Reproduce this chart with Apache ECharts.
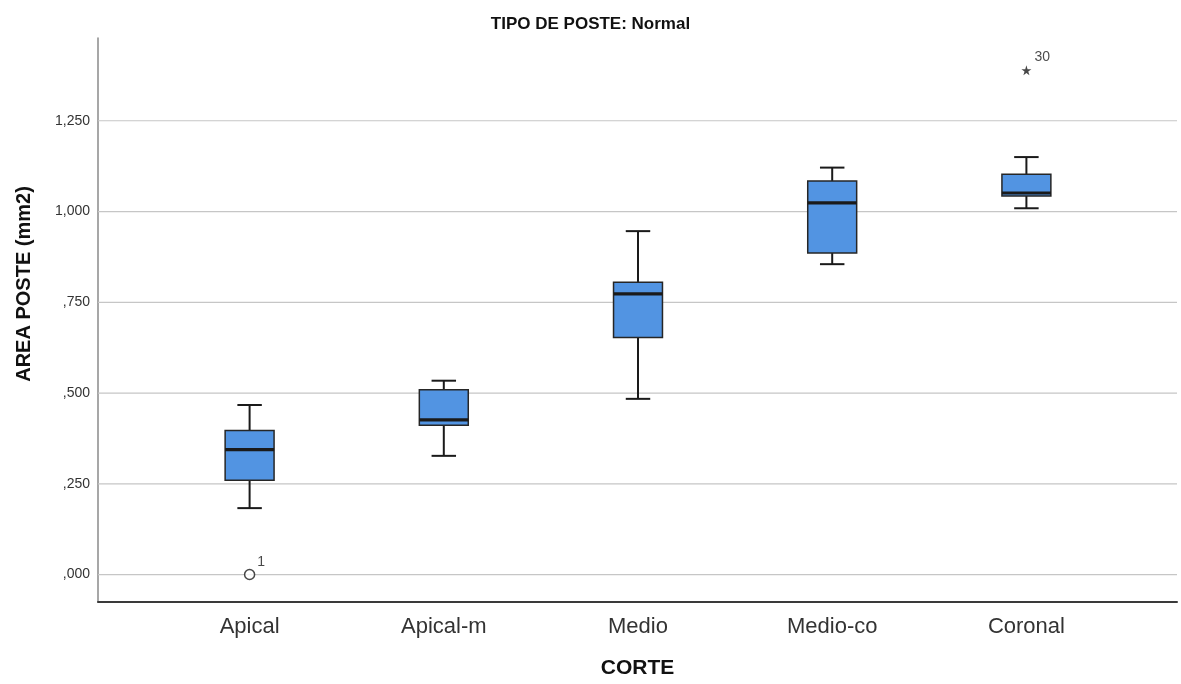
<!DOCTYPE html>
<html>
<head>
<meta charset="utf-8">
<script src="https://cdn.jsdelivr.net/npm/echarts@6/dist/echarts.min.js"></script>
<style>
  html, body { margin: 0; padding: 0; background: #ffffff; }
  #chart { width: 1181px; height: 684px; }
</style>
</head>
<body>
<div id="chart"></div>
<script>
// Area of the post (mm2) per section level, post type "Normal"
const categories  = ['Apical', 'Apical-m', 'Medio', 'Medio-co', 'Coronal'];
const whiskerLow  = [0.183, 0.327, 0.484, 0.855, 1.009];
const q1          = [0.260, 0.411, 0.653, 0.886, 1.043];
const median      = [0.344, 0.426, 0.773, 1.024, 1.051];
const q3          = [0.397, 0.509, 0.805, 1.084, 1.103];
const whiskerHigh = [0.467, 0.534, 0.946, 1.121, 1.150];

// Outliers: [category index, value, case number]
const outlierCircles = [[0, 0.000, '1']];
const extremeStars   = [[4, 1.389, '30']];

// Value axis ticks and their labels
const tickValues = [0, 0.25, 0.5, 0.75, 1.0, 1.25];
const tickLabels = [',000', ',250', ',500', ',750', '1,000', '1,250'];
const yMin = -0.0756;
const yMax = 1.478;

const FONT = '"Liberation Sans", Arial, sans-serif';
const BOX_FILL = '#5294e2';
const INK = '#1a1a1a';

const boxData = categories.map((c, i) => [i, whiskerLow[i], q1[i], median[i], q3[i], whiskerHigh[i]]);

function renderBox(params, api) {
  const i = api.value(0);
  const band = api.size([1, 0])[0];
  const halfBox = band * 0.126;
  const halfCap = halfBox / 2;
  const pLow = api.coord([i, api.value(1)]);
  const pQ1 = api.coord([i, api.value(2)]);
  const pMed = api.coord([i, api.value(3)]);
  const pQ3 = api.coord([i, api.value(4)]);
  const pHigh = api.coord([i, api.value(5)]);
  const cx = pMed[0];
  const line = (x1, y1, x2, y2, w) => ({
    type: 'line',
    shape: { x1, y1, x2, y2 },
    style: { stroke: INK, lineWidth: w }
  });
  return {
    type: 'group',
    children: [
      line(cx, pHigh[1], cx, pQ3[1], 2),
      line(cx, pLow[1], cx, pQ1[1], 2),
      line(cx - halfCap, pHigh[1], cx + halfCap, pHigh[1], 2),
      line(cx - halfCap, pLow[1], cx + halfCap, pLow[1], 2),
      {
        type: 'rect',
        shape: { x: cx - halfBox, y: pQ3[1], width: halfBox * 2, height: pQ1[1] - pQ3[1] },
        style: { fill: BOX_FILL, stroke: '#262626', lineWidth: 1.5 }
      },
      line(cx - halfBox, pMed[1], cx + halfBox, pMed[1], 3.2)
    ]
  };
}

function renderGridLine(params, api) {
  const cs = params.coordSys;
  const y = api.coord([0, api.value(0)])[1];
  return {
    type: 'line',
    shape: { x1: cs.x, y1: y, x2: cs.x + cs.width, y2: y },
    style: { stroke: '#c6c6c6', lineWidth: 1.2 }
  };
}

const starPath = 'path://M50,0 L61,35 L98,35 L68,57 L79,91 L50,70 L21,91 L32,57 L2,35 L39,35 Z';

const chart = echarts.init(document.getElementById('chart'), null, { renderer: 'canvas' });

chart.setOption({
  backgroundColor: '#ffffff',
  animation: false,
  title: {
    text: 'TIPO DE POSTE: Normal',
    left: 'center',
    top: 11,
    textStyle: { fontFamily: FONT, fontSize: 17, fontWeight: 'bold', color: '#111' }
  },
  grid: [
    { left: 98, right: 4, top: 38, bottom: 82, containLabel: false, outerBoundsMode: 'none' },
    { left: 152.5, right: 57.5, top: 38, bottom: 82, containLabel: false, outerBoundsMode: 'none' }
  ],
  xAxis: [
    {
      gridIndex: 0, type: 'value', min: 0, max: 1,
      axisLine: { show: true, onZero: false, lineStyle: { color: '#3a3a3a', width: 2 } },
      axisTick: { show: false }, axisLabel: { show: false }, splitLine: { show: false },
      name: 'CORTE', nameLocation: 'middle', nameGap: 56,
      nameTextStyle: { fontFamily: FONT, fontSize: 21, fontWeight: 'bold', color: '#111' }
    },
    {
      gridIndex: 1, type: 'category', data: categories, boundaryGap: true,
      axisLine: { show: false }, axisTick: { show: false }, splitLine: { show: false },
      axisLabel: { fontFamily: FONT, fontSize: 22, color: '#333', margin: 14 }
    }
  ],
  yAxis: [
    {
      gridIndex: 0, type: 'value', min: yMin, max: yMax,
      axisLine: { show: true, onZero: false, lineStyle: { color: '#8a8a8a', width: 1.5 } },
      axisTick: { show: false },
      splitLine: { show: false },
      axisLabel: {
        customValues: tickValues,
        fontFamily: FONT, fontSize: 14, color: '#333', margin: 8,
        formatter: v => {
          const k = tickValues.findIndex(t => Math.abs(t - v) < 1e-6);
          return k >= 0 ? tickLabels[k] : '';
        }
      }
    },
    {
      gridIndex: 1, type: 'value', min: yMin, max: yMax, show: false,
      splitLine: { show: false }
    }
  ],
  graphic: [
    {
      type: 'text',
      x: 24, y: 284,
      rotation: Math.PI / 2,
      style: {
        text: 'AREA POSTE (mm2)',
        font: 'bold 20px ' + FONT,
        fill: '#111',
        align: 'center',
        verticalAlign: 'middle'
      }
    }
  ],
  series: [
    {
      type: 'custom',
      xAxisIndex: 0, yAxisIndex: 0,
      z: 1,
      silent: true,
      data: tickValues.map(v => [v]),
      encode: { y: 0 },
      renderItem: renderGridLine
    },
    {
      type: 'custom',
      xAxisIndex: 1, yAxisIndex: 1,
      z: 3,
      data: boxData,
      encode: { x: 0, y: [1, 2, 3, 4, 5] },
      renderItem: renderBox
    },
    {
      type: 'scatter',
      xAxisIndex: 1, yAxisIndex: 1,
      z: 4,
      symbol: 'circle',
      symbolSize: 10,
      itemStyle: { color: '#ffffff', borderColor: INK, borderWidth: 1.5 },
      data: outlierCircles,
      label: {
        show: true, position: 'right', offset: [-3, -12],
        formatter: p => p.data[2],
        fontFamily: FONT, fontSize: 14, color: '#1a1a1a'
      }
    },
    {
      type: 'scatter',
      xAxisIndex: 1, yAxisIndex: 1,
      z: 4,
      symbol: starPath,
      symbolSize: 10,
      itemStyle: { color: INK },
      data: extremeStars,
      label: {
        show: true, position: 'right', offset: [-2, -13],
        formatter: p => p.data[2],
        fontFamily: FONT, fontSize: 14, color: '#1a1a1a'
      }
    }
  ]
});
</script>
</body>
</html>
